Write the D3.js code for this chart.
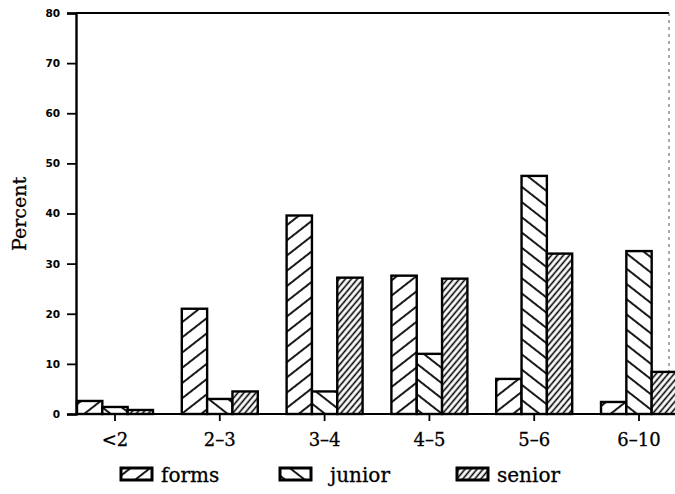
<!DOCTYPE html>
<html>
<head>
<meta charset="utf-8">
<script src="https://cdn.jsdelivr.net/npm/d3@7"></script>
<style>
  body { margin: 0; background: #fff; }
  svg { display: block; }
</style>
</head>
<body>
<script>
const width = 675;
const height = 494;

// data
const categories = ["<2", "2–3", "3–4", "4–5", "5–6", "6–10"];
const seriesNames = ["forms", "junior", "senior"];
const forms  = [2.6, 21, 39.6, 27.6, 7, 2.4];
const junior = [1.4, 3, 4.5, 12, 47.5, 32.5];
const senior = [0.8, 4.5, 27.2, 27, 32, 8.4];
const yTicks = [0, 10, 20, 30, 40, 50, 60, 70, 80];

const values = [forms, junior, senior];

const svg = d3.select("body").append("svg")
  .attr("width", width)
  .attr("height", height);

// hatch patterns
const defs = svg.append("defs");
function hatch(id, angle, gap, sw) {
  const p = defs.append("pattern")
    .attr("id", id)
    .attr("patternUnits", "userSpaceOnUse")
    .attr("width", gap)
    .attr("height", gap)
    .attr("patternTransform", "rotate(" + angle + ")");
  p.append("rect").attr("width", gap).attr("height", gap).attr("fill", "#fff");
  p.append("line")
    .attr("x1", gap / 2).attr("y1", 0)
    .attr("x2", gap / 2).attr("y2", gap)
    .attr("stroke", "#000")
    .attr("stroke-width", sw);
}
hatch("h-forms", 52, 12, 1.8);
hatch("h-junior", -52, 12, 1.8);
hatch("h-senior", 40, 4.6, 1.6);
const fills = ["url(#h-forms)", "url(#h-junior)", "url(#h-senior)"];

// plot edges
const pL = 76, pR = 669, pT = 13, pB = 414;

const x = d3.scaleBand()
  .domain(categories)
  .range([77, 677])
  .paddingInner(0.275)
  .paddingOuter(0);

const xs = d3.scaleBand()
  .domain(seriesNames)
  .range([0, x.bandwidth()]);

const y = d3.scaleLinear()
  .domain([0, 80])
  .range([pB, pT]);

// frame (top + right, right is faint/dotted in the scan)
svg.append("line")
  .attr("x1", pL).attr("x2", pR)
  .attr("y1", pT).attr("y2", pT)
  .attr("stroke", "#000").attr("stroke-width", 1.8);
svg.append("line")
  .attr("x1", pR).attr("x2", pR)
  .attr("y1", pT).attr("y2", pB)
  .attr("stroke", "#555").attr("stroke-width", 1)
  .attr("stroke-dasharray", "3,4");

// bars
const rows = [];
categories.forEach((c, i) => {
  seriesNames.forEach((s, j) => rows.push({ cat: c, s: s, v: values[j][i], k: j }));
});

svg.append("g").selectAll("rect")
  .data(rows)
  .join("rect")
  .attr("x", d => x(d.cat) + xs(d.s))
  .attr("y", d => y(d.v))
  .attr("width", xs.bandwidth())
  .attr("height", d => y(0) - y(d.v))
  .attr("fill", d => fills[d.k])
  .attr("stroke", "#000")
  .attr("stroke-width", 2.4);

// y axis
const yAxis = svg.append("g")
  .attr("transform", "translate(" + pL + ",0)")
  .call(d3.axisLeft(y).tickValues(yTicks).tickSize(9).tickPadding(7));
yAxis.select(".domain").attr("stroke-width", 2.4);
yAxis.selectAll(".tick line").attr("stroke-width", 1.8);
yAxis.selectAll("text")
  .style("font-family", "'DejaVu Sans', sans-serif")
  .style("font-weight", "bold")
  .style("font-size", "10.5px")
  .attr("fill", "#000");

// x axis
const xAxis = svg.append("g")
  .attr("transform", "translate(0," + pB + ")")
  .call(d3.axisBottom(x).tickSize(7).tickPadding(12).tickSizeOuter(0));
xAxis.select(".domain")
  .attr("d", "M" + pL + ",0H" + width)
  .attr("stroke-width", 2.2);
xAxis.selectAll(".tick line").attr("stroke-width", 1.8);
xAxis.selectAll("text")
  .style("font-family", "'DejaVu Serif', serif")
  .style("font-size", "18px")
  .attr("fill", "#000")
  .attr("stroke", "#000")
  .attr("stroke-width", 0.3);

// y label
svg.append("text")
  .attr("transform", "translate(26,214) rotate(-90)")
  .attr("text-anchor", "middle")
  .style("font-family", "'DejaVu Serif', serif")
  .style("font-size", "19px")
  .attr("stroke", "#000")
  .attr("stroke-width", 0.3)
  .text("Percent");

// legend
const legendX = [121, 280, 457];
const lg = svg.append("g").selectAll("g")
  .data(seriesNames)
  .join("g")
  .attr("transform", (d, i) => "translate(" + legendX[i] + ",468)");
lg.append("rect")
  .attr("width", 31).attr("height", 12)
  .attr("fill", (d, i) => fills[i])
  .attr("stroke", "#000").attr("stroke-width", 3);
lg.append("text")
  .attr("x", (d, i) => i === 1 ? 50 : 40)
  .attr("y", 14)
  .style("font-family", "'DejaVu Serif', serif")
  .style("font-size", "20px")
  .attr("stroke", "#000")
  .attr("stroke-width", 0.3)
  .text(d => d);
</script>
</body>
</html>
